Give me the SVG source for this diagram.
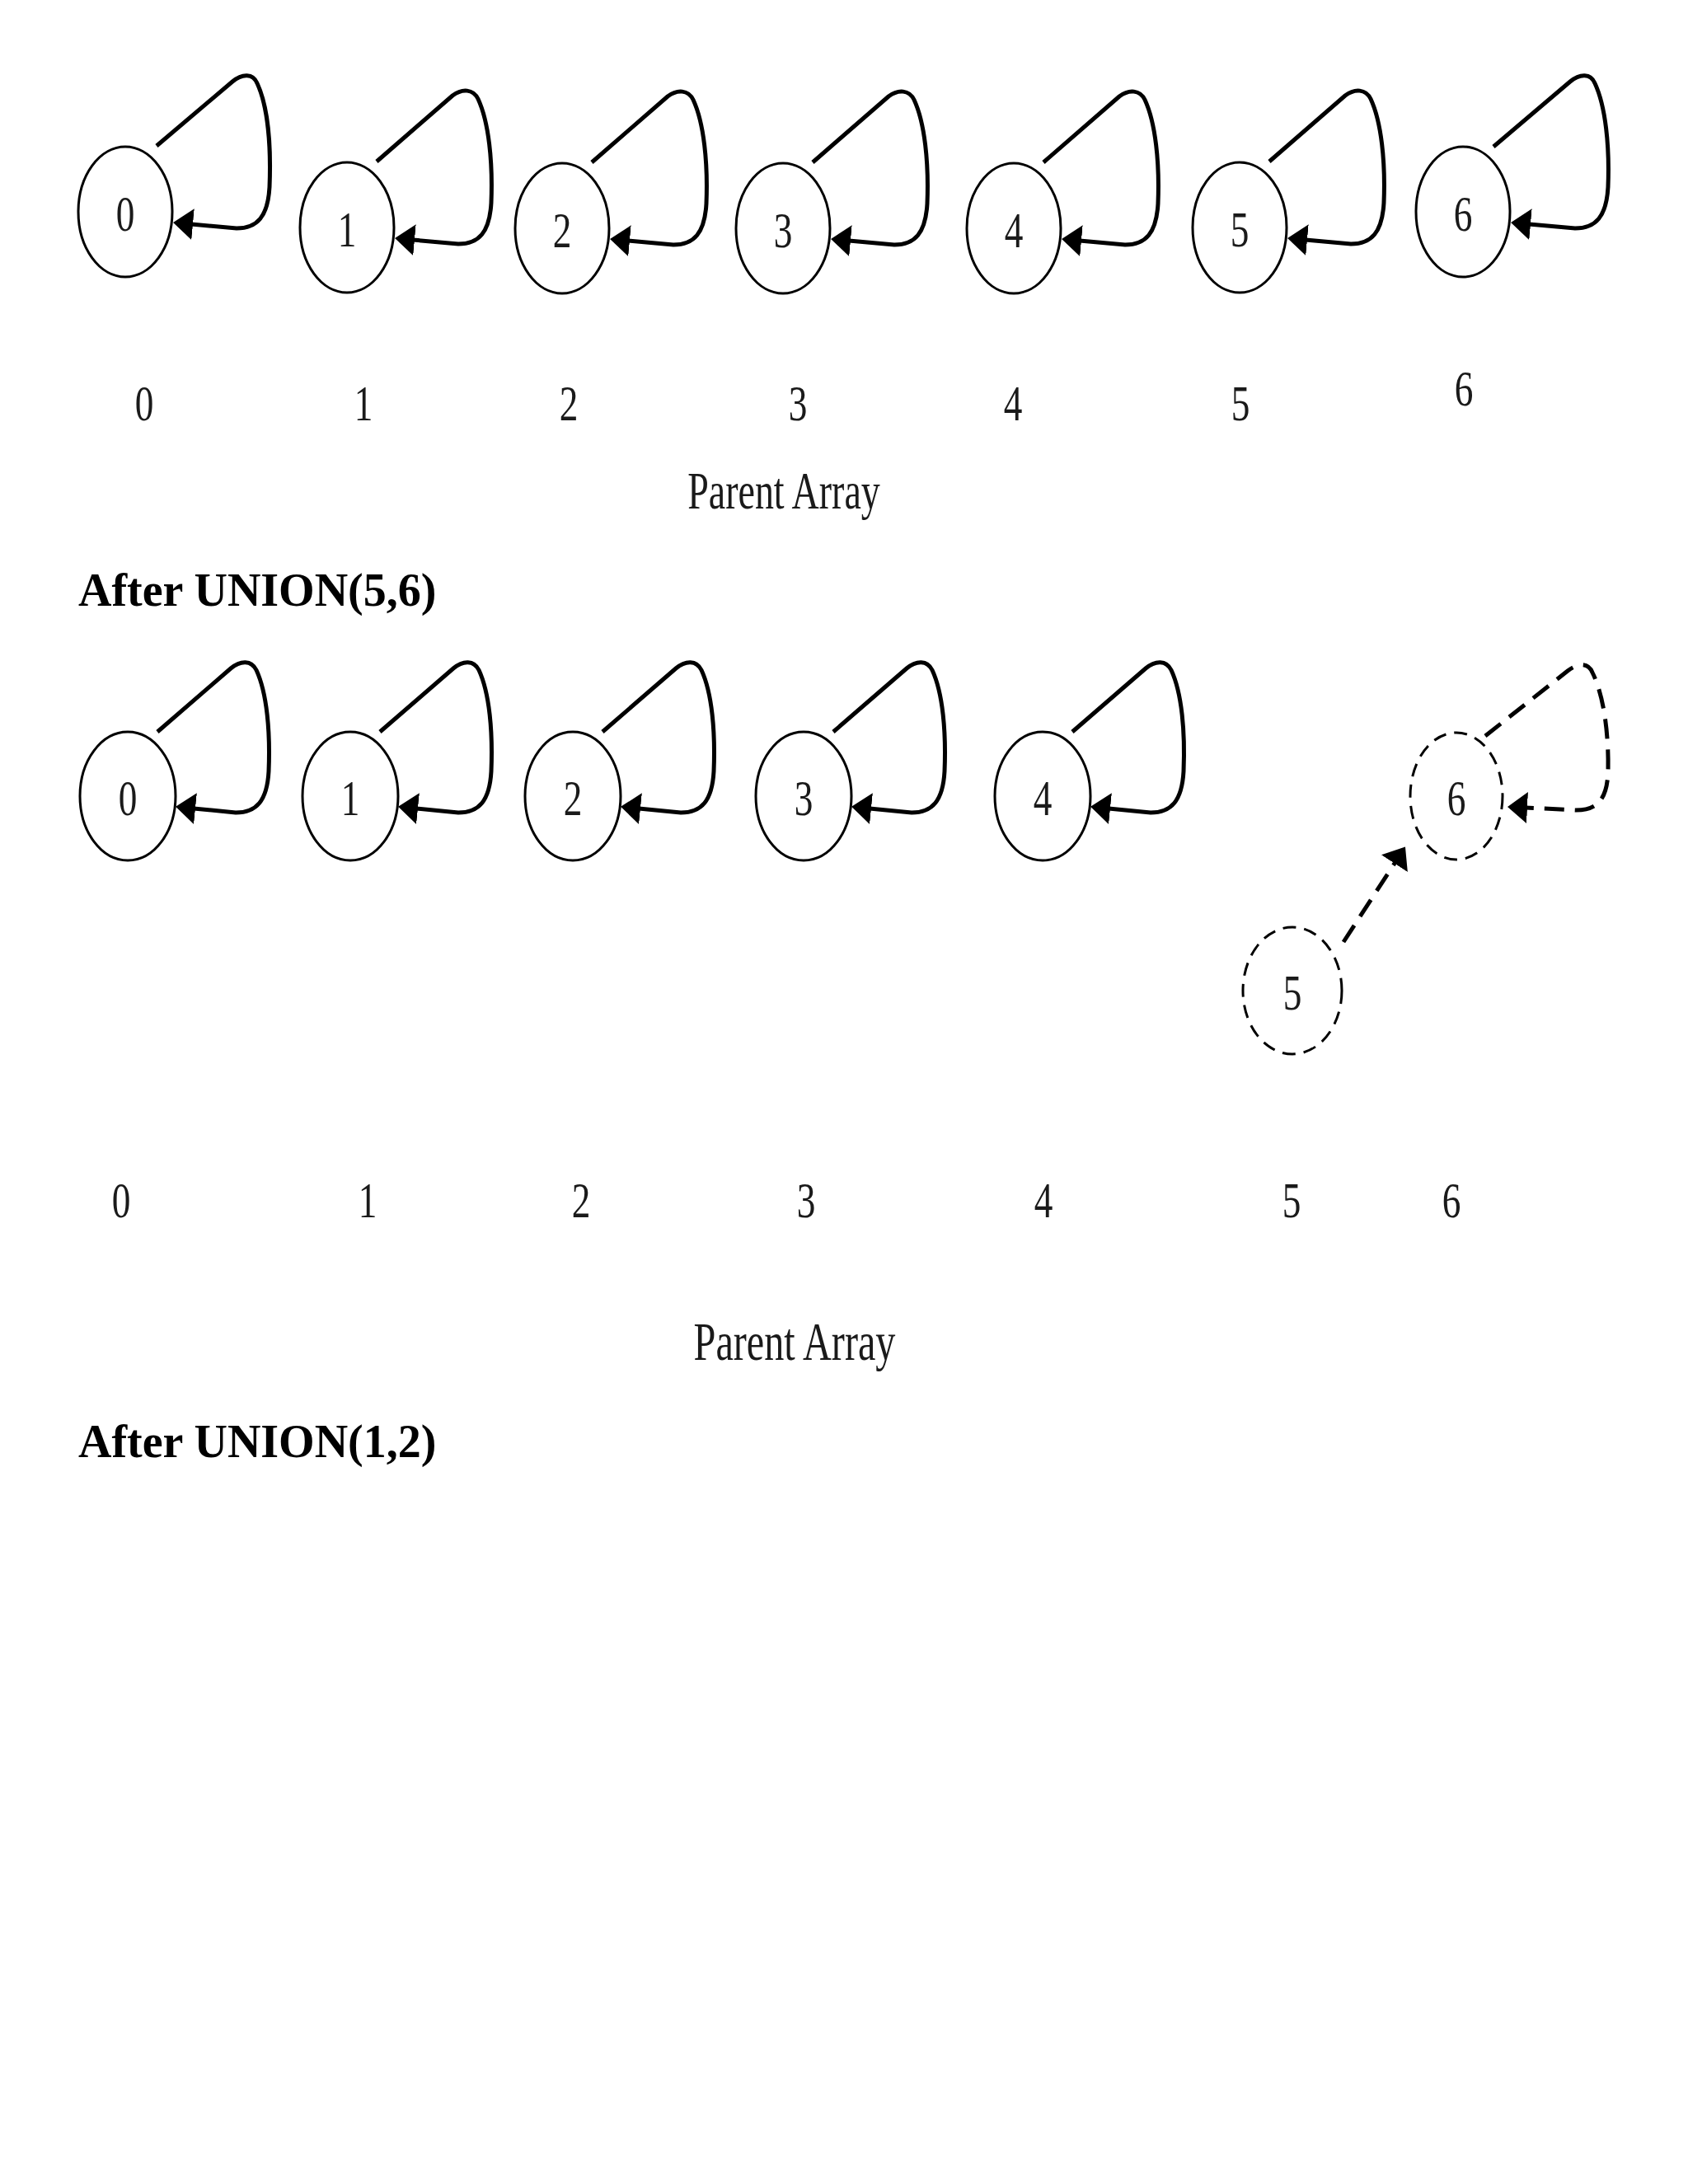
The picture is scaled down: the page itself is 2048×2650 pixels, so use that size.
<svg xmlns="http://www.w3.org/2000/svg" width="2048" height="2650" viewBox="0 0 2048 2650">
<style>
.node{fill:#fff;stroke:#000;stroke-width:3}
.dnode{fill:#fff;stroke:#000;stroke-width:3;stroke-dasharray:16 10}
.loop{fill:none;stroke:#000;stroke-width:5;marker-end:url(#arr)}
.dloop{fill:none;stroke:#000;stroke-width:5;stroke-dasharray:24 13;marker-end:url(#arr)}
.lbl{font-family:"Liberation Serif","Times New Roman",serif;font-size:62px;fill:#1a1a1a;text-anchor:middle}
.cap{font-family:"Liberation Serif","Times New Roman",serif;fill:#1a1a1a;text-anchor:middle}
.title{font-family:"Liberation Serif","Times New Roman",serif;font-size:56px;font-weight:bold;fill:#000}
</style>
<defs>
<marker id="arr" markerUnits="userSpaceOnUse" viewBox="0 0 24 38" markerWidth="24" markerHeight="38" refX="2" refY="19" orient="auto">
<path d="M0,0 L24,19 L0,38 z" fill="#000"/>
</marker>
</defs>
<rect width="2048" height="2650" fill="#fff"/>

<g id="connectors">
<path class="loop" transform="translate(152,257)" d="M38,-80 L130,-158 C142,-168 155,-168 160,-156 C173,-128 177,-80 175,-30 C173,6 160,20 135,20 L80,15"/>
<path class="loop" transform="translate(421,276)" d="M36,-80 L128,-160 C140,-169 153,-168 159,-156 C172,-128 177,-80 175,-30 C173,6 160,20 135,20 L80,15"/>
<path class="loop" transform="translate(682,277)" d="M36,-80 L128,-160 C140,-169 153,-168 159,-156 C172,-128 177,-80 175,-30 C173,6 160,20 135,20 L80,15"/>
<path class="loop" transform="translate(950,277)" d="M36,-80 L128,-160 C140,-169 153,-168 159,-156 C172,-128 177,-80 175,-30 C173,6 160,20 135,20 L80,15"/>
<path class="loop" transform="translate(1230,277)" d="M36,-80 L128,-160 C140,-169 153,-168 159,-156 C172,-128 177,-80 175,-30 C173,6 160,20 135,20 L80,15"/>
<path class="loop" transform="translate(1504,276)" d="M36,-80 L128,-160 C140,-169 153,-168 159,-156 C172,-128 177,-80 175,-30 C173,6 160,20 135,20 L80,15"/>
<path class="loop" transform="translate(1775,257)" d="M37,-79 L130,-158 C142,-168 155,-168 160,-156 C173,-128 178,-80 176,-30 C174,6 161,20 136,20 L80,15"/>

<path class="loop" transform="translate(155,966)" d="M36,-78 L125,-155 C137,-165 150,-165 156,-153 C169,-125 173,-78 171,-30 C169,6 156,20 131,20 L80,15"/>
<path class="loop" transform="translate(425,966)" d="M36,-78 L125,-155 C137,-165 150,-165 156,-153 C169,-125 173,-78 171,-30 C169,6 156,20 131,20 L80,15"/>
<path class="loop" transform="translate(695,966)" d="M36,-78 L125,-155 C137,-165 150,-165 156,-153 C169,-125 173,-78 171,-30 C169,6 156,20 131,20 L80,15"/>
<path class="loop" transform="translate(975,966)" d="M36,-78 L125,-155 C137,-165 150,-165 156,-153 C169,-125 173,-78 171,-30 C169,6 156,20 131,20 L80,15"/>
<path class="loop" transform="translate(1265,966)" d="M36,-78 L125,-155 C137,-165 150,-165 156,-153 C169,-125 173,-78 171,-30 C169,6 156,20 131,20 L80,15"/>
<path class="dloop" transform="translate(1767,966)" d="M35,-73 L135,-152 C148,-162 160,-162 165,-150 C180,-120 185,-70 184,-30 C183,5 170,17 145,17 L84,14"/>
<path class="dloop" d="M1630,1143 L1693,1046"/>
</g>

<g id="node-a0"><ellipse class="node" cx="152" cy="257" rx="57" ry="79"/><text class="lbl" transform="translate(152,280) scale(0.73,1)">0</text></g>
<g id="node-a1"><ellipse class="node" cx="421" cy="276" rx="57" ry="79"/><text class="lbl" transform="translate(421,299) scale(0.73,1)">1</text></g>
<g id="node-a2"><ellipse class="node" cx="682" cy="277" rx="57" ry="79"/><text class="lbl" transform="translate(682,300) scale(0.73,1)">2</text></g>
<g id="node-a3"><ellipse class="node" cx="950" cy="277" rx="57" ry="79"/><text class="lbl" transform="translate(950,300) scale(0.73,1)">3</text></g>
<g id="node-a4"><ellipse class="node" cx="1230" cy="277" rx="57" ry="79"/><text class="lbl" transform="translate(1230,300) scale(0.73,1)">4</text></g>
<g id="node-a5"><ellipse class="node" cx="1504" cy="276" rx="57" ry="79"/><text class="lbl" transform="translate(1504,299) scale(0.73,1)">5</text></g>
<g id="node-a6"><ellipse class="node" cx="1775" cy="257" rx="57" ry="79"/><text class="lbl" transform="translate(1775,280) scale(0.73,1)">6</text></g>

<g id="array-a">
<text class="lbl" transform="translate(175,510) scale(0.73,1)">0</text>
<text class="lbl" transform="translate(441,510) scale(0.73,1)">1</text>
<text class="lbl" transform="translate(690,510) scale(0.73,1)">2</text>
<text class="lbl" transform="translate(968,510) scale(0.73,1)">3</text>
<text class="lbl" transform="translate(1229,510) scale(0.73,1)">4</text>
<text class="lbl" transform="translate(1505,510) scale(0.73,1)">5</text>
<text class="lbl" transform="translate(1776,492) scale(0.73,1)">6</text>
<text class="cap" font-size="63" transform="translate(951,617) scale(0.73,1)">Parent Array</text>
</g>

<text class="title" x="95" y="735">After UNION(5,6)</text>

<g id="node-b0"><ellipse class="node" cx="155" cy="966" rx="58" ry="78"/><text class="lbl" transform="translate(155,989) scale(0.73,1)">0</text></g>
<g id="node-b1"><ellipse class="node" cx="425" cy="966" rx="58" ry="78"/><text class="lbl" transform="translate(425,989) scale(0.73,1)">1</text></g>
<g id="node-b2"><ellipse class="node" cx="695" cy="966" rx="58" ry="78"/><text class="lbl" transform="translate(695,989) scale(0.73,1)">2</text></g>
<g id="node-b3"><ellipse class="node" cx="975" cy="966" rx="58" ry="78"/><text class="lbl" transform="translate(975,989) scale(0.73,1)">3</text></g>
<g id="node-b4"><ellipse class="node" cx="1265" cy="966" rx="58" ry="78"/><text class="lbl" transform="translate(1265,989) scale(0.73,1)">4</text></g>
<g id="node-b6"><ellipse class="dnode" cx="1767" cy="966" rx="56" ry="77"/><text class="lbl" transform="translate(1767,989) scale(0.73,1)">6</text></g>
<g id="node-b5"><ellipse class="dnode" cx="1568" cy="1202" rx="60" ry="77"/><text class="lbl" transform="translate(1568,1225) scale(0.73,1)">5</text></g>

<g id="array-b">
<text class="lbl" transform="translate(147,1477) scale(0.73,1)">0</text>
<text class="lbl" transform="translate(446,1477) scale(0.73,1)">1</text>
<text class="lbl" transform="translate(705,1477) scale(0.73,1)">2</text>
<text class="lbl" transform="translate(978,1477) scale(0.73,1)">3</text>
<text class="lbl" transform="translate(1266,1477) scale(0.73,1)">4</text>
<text class="lbl" transform="translate(1567,1477) scale(0.73,1)">5</text>
<text class="lbl" transform="translate(1761,1477) scale(0.73,1)">6</text>
<text class="cap" font-size="66" transform="translate(964,1650) scale(0.73,1)">Parent Array</text>
</g>

<text class="title" x="95" y="1768">After UNION(1,2)</text>
</svg>
